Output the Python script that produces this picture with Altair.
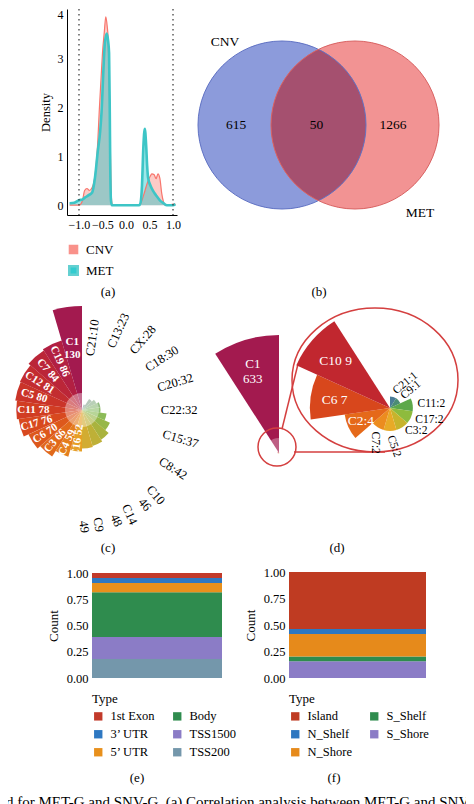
import math
import pandas as pd
import altair as alt

FONT = "Liberation Serif"

# ---------------- data ----------------
# (a) density of correlation coefficients
a_groups = ["CNV", "MET"]
cnv_x = [-1.20, -1.10, -1.00, -0.93, -0.88, -0.83, -0.78, -0.72, -0.66, -0.60, -0.57, -0.53,
         -0.50, -0.46, -0.43, -0.40, -0.38, -0.355, -0.33, -0.31, -0.29, 0.00, 0.28, 0.31,
         0.34, 0.38, 0.43, 0.47, 0.51, 0.55, 0.60, 0.64, 0.68, 0.72, 0.76, 0.80, 0.83, 0.90,
         1.00, 1.05]
cnv_y = [0.00, 0.00, 0.00, 0.08, 0.30, 0.34, 0.30, 0.36, 0.60, 1.30, 1.90, 2.60,
         3.10, 3.55, 3.84, 3.65, 3.40, 2.40, 1.00, 0.15, 0.00, 0.00, 0.00, 0.03,
         0.10, 0.22, 0.38, 0.50, 0.58, 0.64, 0.62, 0.54, 0.64, 0.55, 0.24, 0.06, 0.00, 0.00,
         0.02, 0.02]
met_x = [-1.20, -1.10, -1.00, -0.92, -0.87, -0.80, -0.72, -0.66, -0.60, -0.55, -0.52, -0.48,
         -0.45, -0.41, -0.38, -0.36, -0.345, -0.335, -0.32, -0.30, 0.00, 0.28, 0.31, 0.34,
         0.37, 0.40, 0.43, 0.45, 0.47, 0.52, 0.57, 0.64, 0.72, 0.80, 0.87, 1.00, 1.05]
met_y = [0.04, 0.05, 0.10, 0.12, 0.16, 0.20, 0.26, 0.56, 1.10, 1.50, 1.90, 2.77,
         3.30, 3.50, 3.35, 3.10, 1.90, 0.80, 0.10, 0.00, 0.00, 0.00, 0.05, 0.40,
         1.20, 1.56, 1.20, 0.80, 0.56, 0.40, 0.30, 0.20, 0.10, 0.04, 0.00, 0.00, 0.02]
a_ref_lines = [-1.0, 1.0]
a_x_ticks = [-1.0, -0.5, 0.0, 0.5, 1.0]
a_y_ticks = [0, 1, 2, 3, 4]

# (b) Venn
venn_sets = ["CNV", "MET"]
venn_counts = [615, 50, 1266]          # CNV only, shared, MET only

# (c) rose chart (descending)
c_names = ["C1", "C19", "C7", "C12", "C5", "C11", "C17", "C6", "C3", "C4", "C16",
           "C9", "C14", "C10", "C8", "C15", "C22", "C20", "C18", "CX", "C13", "C21"]
c_values = [130, 86, 84, 81, 80, 78, 76, 70, 66, 59, 52,
            49, 48, 46, 42, 37, 32, 32, 30, 28, 23, 10]

# (d) rose chart with zoom
d_names = ["C1", "C10", "C6", "C2", "C7", "C5", "C3", "C17", "C11", "C9", "C21"]
d_values = [633, 9, 7, 4, 2, 2, 2, 2, 2, 1, 1]
d_labels = ["C1\n633", "C10 9", "C6 7", "C2:4", "C7:2", "C5:2", "C3:2", "C17:2",
            "C11:2", "C9:1", "C21:1"]

# (e) gene region types (bottom -> top)
e_types = ["TSS200", "TSS1500", "Body", "5\u2019 UTR", "3\u2019 UTR", "1st Exon"]
e_fracs = [0.18, 0.21, 0.426, 0.089, 0.047, 0.048]
e_legend = ["1st Exon", "3\u2019 UTR", "5\u2019 UTR", "Body", "TSS1500", "TSS200"]

# (f) CpG island relation (bottom -> top)
f_types = ["S_Shore", "S_Shelf", "N_Shore", "N_Shelf", "Island"]
f_fracs = [0.157, 0.047, 0.211, 0.047, 0.538]
f_legend = ["Island", "N_Shelf", "N_Shore", "S_Shelf", "S_Shore"]
bar_ticks = [0.0, 0.25, 0.5, 0.75, 1.0]

panel_tags = ["(a)", "(b)", "(c)", "(d)", "(e)", "(f)"]
caption = "d for MET-G and SNV-G. (a) Correlation analysis between MET-G and SNV-G"

# ---------------- layout (pixels inside the single view) ----------------
W, H = 458, 796
A_XR, A_YR = [59, 169], [207, 1]           # density panel plot area
A_XDOM, A_YDOM = [-1.255, 1.085], [-0.2, 4.0]
VEN_L, VEN_R, VEN_Y, VEN_RAD = 274.0, 347.0, 117.0, 84
C_CX, C_CY, C_RMAX, C_DMIN = 74, 402, 104.0, 19.5
D_AX, D_AY, D_RMAX = 271, 445, 118
D_IX, D_IY, D_IRMAX = 382, 400, 103
E_XR, E_YR = [84, 214], [670, 565]
F_XR, F_YR = [281, 418], [670, 564]
tag_pos = [(100, 284), (311, 284), (100, 540), (329, 540), (129, 770), (326, 770)]

# ---------------- styles ----------------
a_fill = ["#F8766D", "#00BFC4"]
a_line = ["#F8766D", "#3DC5C6"]
venn_fill = ["#8C9BDB", "#F29393"]
venn_edge = ["#6072C4", "#D96262"]
venn_lens = "#A5506F"
c_colors = ["#A31A4F", "#B22042", "#BB2638", "#C32D30", "#CA3429", "#D13D23", "#D8491F",
            "#DD581C", "#E1691B", "#E47E1D", "#E69F26", "#D2AC31", "#BEB037", "#A9B33E",
            "#97B748", "#8CBB58", "#8EBE6E", "#8FBA7E", "#8DB28B", "#8AA992", "#869F96",
            "#83949A"]
d_colors = ["#A31A4F", "#C1272F", "#D8471C", "#E5691A", "#EC8C1F", "#E8AA27", "#C7B42C",
            "#8EBB3D", "#5DA84B", "#4B8C74", "#4A7C96"]
d_out_angles = {"C21": 320, "C9": 320, "C11": 0, "C17": 0, "C3": 0, "C5": 70, "C7": 90}
type_colors = {"1st Exon": "#C23A2A", "3\u2019 UTR": "#2E78C2", "5\u2019 UTR": "#E8901C",
               "Body": "#2F8C4E", "TSS1500": "#8B7CC6", "TSS200": "#7497AB",
               "Island": "#BF3B22", "N_Shelf": "#2D77C0", "N_Shore": "#E68A1B",
               "S_Shelf": "#2F8C4E", "S_Shore": "#8B7CC6"}
RED = "#D43F3F"


def one():
    return pd.DataFrame({"k": [0]})


PX = dict(scale=None, axis=None)

# ---------------- (a) ----------------
dens = pd.concat([pd.DataFrame({"x": cnv_x, "y": cnv_y, "grp": "CNV"}),
                  pd.DataFrame({"x": met_x, "y": met_y, "grp": "MET"})], ignore_index=True)
xs_a = alt.Scale(domain=A_XDOM, range=A_XR, nice=False, zero=False)
ys_a = alt.Scale(domain=A_YDOM, range=A_YR, nice=False, zero=False)
ax_x = alt.Axis(values=a_x_ticks, format=".1f", title=None, grid=False, ticks=False,
                labelPadding=4, domainColor="black", labelFontSize=12, orient="bottom",
                offset=A_YR[0] - H)
ax_y = alt.Axis(values=a_y_ticks, format="d", title="Density", grid=False, ticks=False,
                labelPadding=4, titlePadding=5, domainColor="black", labelFontSize=12,
                titleFontSize=12.5, orient="left", offset=-A_XR[0], labelFlush=True)
x_a = alt.X("x:Q", scale=xs_a, axis=ax_x)
y_a = alt.Y("y:Q", scale=ys_a, axis=ax_y, stack=None)
area_a = alt.Chart(dens).mark_area(fillOpacity=0.38, interpolate="monotone").encode(
    x=x_a, y=y_a, y2=alt.datum(0),
    fill=alt.Fill("grp:N", scale=alt.Scale(domain=a_groups, range=a_fill),
                  legend=alt.Legend(title=None, orient="none", legendX=59, legendY=235,
                                    symbolType="square", symbolSize=70, symbolOpacity=0.8,
                                    symbolStrokeWidth=0, labelFontSize=13, labelFont=FONT,
                                    rowPadding=4, labelOffset=6)))
line_a = alt.Chart(dens).mark_line(interpolate="monotone").encode(
    x=x_a, y=y_a,
    stroke=alt.Stroke("grp:N", scale=alt.Scale(domain=a_groups, range=a_line), legend=None),
    strokeWidth=alt.StrokeWidth("grp:N", scale=alt.Scale(domain=a_groups, range=[1.2, 2.6]),
                                legend=None))
rule_df = pd.DataFrame({"v": a_ref_lines, "top": A_YDOM[1], "bot": A_YDOM[0]})
rule_a = alt.Chart(rule_df).mark_rule(strokeDash=[1.5, 3.5], color="#333333",
                                      strokeWidth=1.2).encode(
    x=alt.X("v:Q", scale=xs_a, axis=ax_x), y=alt.Y("top:Q", scale=ys_a, axis=ax_y),
    y2="bot:Q")
panel_a = alt.layer(area_a, line_a, rule_a)

# ---------------- (b) ----------------
size_c = (2 * VEN_RAD) ** 2
circ_df = pd.DataFrame({"cx": [VEN_L, VEN_R], "cy": [VEN_Y, VEN_Y], "fill": venn_fill,
                        "edge": venn_edge})


def bez_arc(cx, cy, a0, a1, nseg=2):
    out = []
    da = (a1 - a0) / nseg
    kk = 4.0 / 3.0 * math.tan(da / 4)
    for s in range(nseg):
        t0 = a0 + s * da
        t1 = t0 + da
        p0 = (cx + math.cos(t0), cy + math.sin(t0))
        p3 = (cx + math.cos(t1), cy + math.sin(t1))
        c1 = (p0[0] - kk * math.sin(t0), p0[1] + kk * math.cos(t0))
        c2 = (p3[0] + kk * math.sin(t1), p3[1] - kk * math.cos(t1))
        out.append("C%.4f,%.4f %.4f,%.4f %.4f,%.4f" % (c1 + c2 + p3))
    return out


dl = (VEN_R - VEN_L) / 2 / VEN_RAD
hl = math.sqrt(1 - dl * dl)
al = math.atan2(hl, dl)
lens_path = "M0,%.4f " % (-hl) + " ".join(bez_arc(-dl, 0, -al, al)) + " " + \
    " ".join(bez_arc(dl, 0, math.pi - al, math.pi + al)) + " Z"

circles_b = alt.Chart(circ_df).mark_point(shape="circle", filled=True, opacity=1,
                                          size=size_c, strokeWidth=0).encode(
    x=alt.X("cx:Q", **PX), y=alt.Y("cy:Q", **PX), fill=alt.Fill("fill:N", scale=None))
lens_b = alt.Chart(one()).mark_point(shape=lens_path, filled=True, opacity=1, size=size_c,
                                     fill=venn_lens, strokeWidth=0).encode(
    x=alt.value((VEN_L + VEN_R) / 2), y=alt.value(VEN_Y))
edges_b = alt.Chart(circ_df).mark_point(shape="circle", filled=False, opacity=1,
                                        size=size_c, strokeWidth=1).encode(
    x=alt.X("cx:Q", **PX), y=alt.Y("cy:Q", **PX), stroke=alt.Stroke("edge:N", scale=None))
vtext = pd.DataFrame({
    "tx": [VEN_L - 46, (VEN_L + VEN_R) / 2 - 2, VEN_R + 38, VEN_L - 57, VEN_R + 65],
    "ty": [VEN_Y, VEN_Y, VEN_Y, VEN_Y - 83, VEN_Y + 88],
    "label": [str(v) for v in venn_counts] + venn_sets})
text_b = alt.Chart(vtext).mark_text(fontSize=13.5, color="black", font=FONT).encode(
    x=alt.X("tx:Q", **PX), y=alt.Y("ty:Q", **PX), text="label:N")

# ---------------- (c) ----------------
nC = len(c_names)
c_df = pd.DataFrame({"name": c_names, "value": c_values, "col": c_colors}).iloc[::-1]
c_df = c_df.reset_index(drop=True)
c_df["t0"] = c_df.index.astype(float)
c_df["t1"] = c_df["t0"] + 1
c_df["tm"] = c_df["t0"] + 0.5
c_deg = c_df["tm"] / nC * 360
half = nC // 2
vmax = max(c_values)


def c_rad(v):
    return max(0.0, C_RMAX * (math.sqrt(v) - math.sqrt(C_DMIN)) /
               (math.sqrt(vmax) - math.sqrt(C_DMIN)))


theta_c = alt.Scale(domain=[0, nC], range=[0, 2 * math.pi])
wedges_c = alt.Chart(c_df).mark_arc().encode(
    theta=alt.Theta("t0:Q", scale=theta_c, stack=None), theta2="t1:Q",
    radius=alt.Radius("value:Q", scale=alt.Scale(type="sqrt", domain=[C_DMIN, vmax],
                                                 range=[0, C_RMAX], clamp=True)),
    fill=alt.Fill("col:N", scale=None), x=alt.value(C_CX), y=alt.value(C_CY))
disk_c = alt.Chart(one()).mark_arc(theta=0, theta2=2 * math.pi, radius=17, fill="white",
                                   opacity=0.38).encode(x=alt.value(C_CX), y=alt.value(C_CY))

c_out = c_df[c_df.index < half].copy()
c_out["lab"] = [f"{n}\n{v}" if v >= 46 else f"{n}:{v}" for n, v in zip(c_out.name, c_out.value)]
c_out["ang"] = ((c_deg[c_out.index] - 90) % 360).values
out_c = alt.Chart(c_out).mark_text(fontSize=12.5, color="black", font=FONT, lineBreak="\n",
                                   align="center", baseline="middle").encode(
    theta=alt.Theta("tm:Q", scale=theta_c, stack=None),
    radius=alt.Radius("value:Q", scale=alt.Scale(domain=[0, vmax], range=[62, 205])),
    angle=alt.Angle("ang:Q", scale=None), text="lab:N", x=alt.value(C_CX), y=alt.value(C_CY))

c_in = c_df[c_df.index >= half].copy()
c_in["lab"] = [f"{n}\n{v}" if v == vmax else f"{n} {v}" for n, v in zip(c_in.name, c_in.value)]
c_in["ang"] = [0.0 if v == vmax else (d - 270) % 360
               for v, d in zip(c_in.value, c_deg[c_in.index])]
c_in["lr"] = [c_rad(v) * (0.66 if v == vmax else 0.74) for v in c_in.value]
in_c = alt.Chart(c_in).mark_text(fontSize=11, fontWeight="bold", color="white", font=FONT,
                                 lineBreak="\n", align="center", baseline="middle").encode(
    theta=alt.Theta("tm:Q", scale=theta_c, stack=None),
    radius=alt.Radius("lr:Q", scale=None),
    angle=alt.Angle("ang:Q", scale=None), text="lab:N", x=alt.value(C_CX), y=alt.value(C_CY))

# ---------------- (d) ----------------
nD = len(d_names)
d_df = pd.DataFrame({"name": d_names, "value": d_values, "col": d_colors,
                     "lab": d_labels}).iloc[::-1].reset_index(drop=True)
d_df["t0"] = d_df.index.astype(float)
d_df["t1"] = d_df["t0"] + 1
d_df["tm"] = d_df["t0"] + 0.5
dmax = max(d_values)
rest = d_df[d_df.value < dmax].copy()
rmax = rest.value.max()
theta_d = alt.Scale(domain=[0, nD], range=[0, 2 * math.pi])

main_d = alt.Chart(d_df).mark_arc().encode(
    theta=alt.Theta("t0:Q", scale=theta_d, stack=None), theta2="t1:Q",
    radius=alt.Radius("value:Q", scale=alt.Scale(domain=[0, dmax], range=[0, D_RMAX])),
    fill=alt.Fill("col:N", scale=None), x=alt.value(D_AX), y=alt.value(D_AY))
disk_d = alt.Chart(one()).mark_arc(theta=0, theta2=2 * math.pi, radius=15, fill="white",
                                   opacity=0.3).encode(x=alt.value(D_AX), y=alt.value(D_AY))
c1_lab = alt.Chart(d_df[d_df.value == dmax]).mark_text(
    fontSize=13, color="white", font=FONT, lineBreak="\n").encode(
    theta=alt.Theta("tm:Q", scale=theta_d, stack=None),
    radius=alt.Radius("value:Q", scale=alt.Scale(domain=[0, dmax], range=[0, 93])),
    text="lab:N", x=alt.value(D_AX), y=alt.value(D_AY))
inset_d = alt.Chart(rest).mark_arc().encode(
    theta=alt.Theta("t0:Q", scale=theta_d, stack=None), theta2="t1:Q",
    radius=alt.Radius("value:Q", scale=alt.Scale(domain=[0, rmax], range=[0, D_IRMAX])),
    fill=alt.Fill("col:N", scale=None), x=alt.value(D_IX), y=alt.value(D_IY))
big = rest[rest.value >= 4]
small = rest[rest.value < 4].copy()
small["ang"] = [d_out_angles[n] for n in small.name]
in_lab_d = alt.Chart(big).mark_text(fontSize=13.5, color="white", font=FONT).encode(
    theta=alt.Theta("tm:Q", scale=theta_d, stack=None),
    radius=alt.Radius("value:Q", scale=alt.Scale(domain=[0, rmax], range=[0, 72])),
    text="lab:N", x=alt.value(D_IX), y=alt.value(D_IY))
out_lab_d = alt.Chart(small).mark_text(fontSize=11.5, color="black", font=FONT, align="left",
                                       baseline="middle").encode(
    theta=alt.Theta("tm:Q", scale=theta_d, stack=None),
    radius=alt.Radius("value:Q", scale=alt.Scale(domain=[0, rmax], range=[5, D_IRMAX + 5])),
    angle=alt.Angle("ang:Q", scale=None),
    text="lab:N", x=alt.value(D_IX), y=alt.value(D_IY))
# magnifier: small circle, callout lines, ellipse
ey = 72.0 / 83.0
kb = 0.5523
ell_path = ("M1,0 C1,{a} {k},{e} 0,{e} C{mk},{e} -1,{a} -1,0 C-1,{ma} {mk},{me} 0,{me} "
            "C{k},{me} 1,{ma} 1,0 Z").format(a=kb * ey, k=kb, e=ey, mk=-kb, ma=-kb * ey,
                                             me=-ey)
ring_d = alt.Chart(one()).mark_point(shape="circle", filled=False, opacity=1, size=38 ** 2,
                                     color=RED, strokeWidth=1.5).encode(
    x=alt.value(D_AX - 2), y=alt.value(D_AY - 6))
ell_d = alt.Chart(one()).mark_point(shape=ell_path, filled=False, opacity=1, size=166 ** 2,
                                    color=RED, strokeWidth=1.5).encode(
    x=alt.value(D_IX - 15), y=alt.value(D_IY - 28))
seg_df = pd.DataFrame({"x": [D_AX + 3, D_AX + 15], "y": [D_AY - 24, D_AY - 1],
                       "x2": [D_AX + 19, D_IX - 5], "y2": [D_AY - 89, D_AY - 1]})
seg_d = alt.Chart(seg_df).mark_rule(color=RED, strokeWidth=1.5).encode(
    x=alt.X("x:Q", **PX), y=alt.Y("y:Q", **PX), x2="x2:Q", y2="y2:Q")


# ---------------- (e) & (f) ----------------
def stack_panel(types, fracs, legend_order, xr, yr, lx, ly):
    df = pd.DataFrame({"type": types, "frac": fracs, "ord": list(range(len(types))),
                       "g": "all"})
    return alt.Chart(df).mark_bar().encode(
        x=alt.X("g:N", axis=None, scale=alt.Scale(range=xr, paddingInner=0, paddingOuter=0)),
        y=alt.Y("frac:Q", stack="zero", scale=alt.Scale(domain=[0, 1], range=yr, nice=False),
                axis=alt.Axis(values=bar_ticks, format=".2f", title="Count", grid=False,
                              ticks=False, domain=False, labelPadding=4, titlePadding=6,
                              labelFontSize=12.5, titleFontSize=13, orient="left",
                              offset=-xr[0])),
        color=alt.Color("type:N", scale=alt.Scale(domain=legend_order,
                                                  range=[type_colors[t] for t in legend_order]),
                        legend=alt.Legend(title="Type", orient="none", legendX=lx, legendY=ly,
                                          columns=2, symbolType="square", symbolSize=70,
                                          symbolStrokeWidth=0, labelFontSize=12.5,
                                          titleFontSize=13, titleFontWeight="normal",
                                          labelFont=FONT, titleFont=FONT, rowPadding=5,
                                          columnPadding=16, labelOffset=6, titlePadding=4,
                                          direction="vertical")),
        order=alt.Order("ord:Q"),
    )


panel_e = stack_panel(e_types, e_fracs, e_legend, E_XR, E_YR, E_XR[0], 685)
panel_f = stack_panel(f_types, f_fracs, f_legend, F_XR, F_YR, F_XR[0], 685)

# ---------------- panel tags and caption ----------------
tags = pd.DataFrame({"tx": [p[0] for p in tag_pos], "ty": [p[1] for p in tag_pos],
                     "label": panel_tags})
tags_l = alt.Chart(tags).mark_text(fontSize=13, color="black", font=FONT).encode(
    x=alt.X("tx:Q", **PX), y=alt.Y("ty:Q", **PX), text="label:N")
cap_l = alt.Chart(pd.DataFrame({"label": [caption]})).mark_text(
    fontSize=15, color="black", font=FONT, align="left", baseline="top").encode(
    x=alt.value(-2), y=alt.value(787), text="label:N")

chart = alt.layer(
    panel_a, circles_b, lens_b, edges_b, text_b,
    wedges_c, disk_c, out_c, in_c,
    main_d, disk_d, c1_lab, ring_d, seg_d, ell_d, inset_d, in_lab_d, out_lab_d,
    panel_e, panel_f, tags_l, cap_l,
).resolve_scale(
    x="independent", y="independent", theta="independent", radius="independent",
    color="independent", fill="independent", stroke="independent",
    strokeWidth="independent"
).resolve_axis(x="independent", y="independent").resolve_legend(
    color="independent", fill="independent"
).properties(
    width=W, height=H, padding=0, autosize=alt.AutoSizeParams(type="none")
).configure(font=FONT).configure_view(stroke=None).configure_axis(
    labelFont=FONT, titleFont=FONT, labelColor="black", titleColor="black",
    titleFontWeight="normal")

chart.save("out.html", embed_options={"renderer": "svg", "actions": False})
